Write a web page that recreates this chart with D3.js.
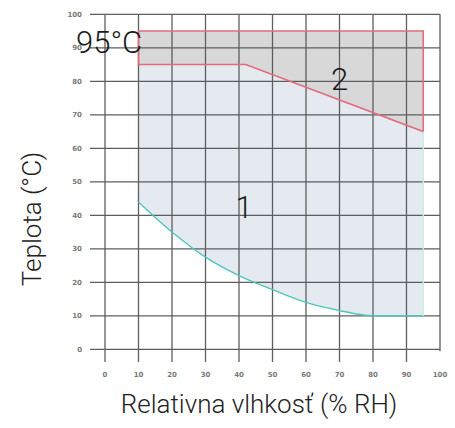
<!DOCTYPE html>
<html><head><meta charset="utf-8">
<script src="https://cdn.jsdelivr.net/npm/d3@7"></script>
<style>html,body{margin:0;padding:0;background:#fff;}svg{display:block;}</style>
</head><body>
<svg id="chart" width="455" height="428"></svg>
<script>
const xTicks = [0,10,20,30,40,50,60,70,80,90,100];
const yTicks = [0,10,20,30,40,50,60,70,80,90,100];
// Region 2 outline (RH %, °C)
const region2RH   = [10, 95, 95, 42, 10];
const region2Temp = [95, 95, 65, 85, 85];
// Lower boundary curve of region 1
const curveRH   = [10, 20, 30, 40, 50, 60, 70, 80, 95];
const curveTemp = [44, 35, 27.5, 22, 17.8, 14, 11.6, 10, 10];
const regionLabels = ["1", "2", "95°C"];
const labelRH   = [41.5, 70, 0];
const labelTemp = [39.3, 77.3, 88.5];

const svg = d3.select("#chart");
const x = d3.scaleLinear().domain([0,100]).range([105,440]);
const y = d3.scaleLinear().domain([0,100]).range([349.3,14.3]);

// Region 1 polygon: region2 lower edge + curve
const r1 = [[10,85],[42,85],[95,65]];
curveRH.slice().reverse().forEach((v,i)=>{ r1.push([v, curveTemp[curveTemp.length-1-i]]); });
svg.append("path")
  .attr("d", d3.line().x(d=>x(d[0])).y(d=>y(d[1]))(r1) + "Z")
  .attr("fill", "#e5eaf0");

const r2 = region2RH.map((v,i)=>[v, region2Temp[i]]);
svg.append("path")
  .attr("d", d3.line().x(d=>x(d[0])).y(d=>y(d[1]))(r2) + "Z")
  .attr("fill", "#d8d8d8");

// grid
const g = svg.append("g").attr("stroke", "#5e5e5e").attr("stroke-width", 1.3);
yTicks.forEach(t=>{
  g.append("line").attr("x1", 90).attr("x2", x(100)).attr("y1", y(t)).attr("y2", y(t));
});
xTicks.forEach(t=>{
  g.append("line").attr("x1", x(t)).attr("x2", x(t)).attr("y1", y(100)).attr("y2", t===100 ? y(0)+2 : 362);
});

// region 2 border
svg.append("path")
  .attr("d", d3.line().x(d=>x(d[0])).y(d=>y(d[1]))(r2) + "Z")
  .attr("fill", "none").attr("stroke", "#e36b7c").attr("stroke-width", 1.6);

// curve
svg.append("path")
  .attr("d", d3.line().x((d,i)=>x(curveRH[i])).y((d,i)=>y(curveTemp[i])).curve(d3.curveMonotoneX)(curveRH))
  .attr("fill", "none").attr("stroke", "#4fc6bc").attr("stroke-width", 1.4);
// right edge of region 1
svg.append("line").attr("x1", x(95)).attr("x2", x(95)).attr("y1", y(10)).attr("y2", y(65))
  .attr("stroke", "#c9eeec").attr("stroke-width", 1.4);

// tick labels
svg.append("g").selectAll("text").data(yTicks).join("text")
  .attr("x", 82).attr("y", d=>y(d)).attr("dy", "0.35em")
  .attr("text-anchor", "end")
  .attr("font-family", "DejaVu Sans, sans-serif").attr("font-size", 7).attr("font-weight", "bold")
  .attr("fill", "#7a7a7a").text(d=>d);
svg.append("g").selectAll("text").data(xTicks).join("text")
  .attr("x", d=>x(d)).attr("y", 377)
  .attr("text-anchor", "middle")
  .attr("font-family", "DejaVu Sans, sans-serif").attr("font-size", 7).attr("font-weight", "bold")
  .attr("fill", "#7a7a7a").text(d=>d);

// region labels
svg.append("g").selectAll("text").data(regionLabels).join("text")
  .attr("x", (d,i)=>i===2 ? 76 : x(labelRH[i]))
  .attr("y", (d,i)=>y(labelTemp[i]))
  .attr("text-anchor", (d,i)=>i===2 ? "start" : "middle")
  .attr("font-family", "Roboto, sans-serif").attr("font-weight", 300).attr("font-size", 31)
  .attr("fill", "#1a1a1a").text(d=>d);

// axis titles
svg.append("text").attr("x", 259).attr("y", 413).attr("text-anchor", "middle")
  .attr("font-family", "Roboto, sans-serif").attr("font-weight", 300).attr("font-size", 26)
  .attr("fill", "#222").text("Relativna vlhkosť (% RH)");
svg.append("text").attr("transform", "translate(41,219) rotate(-90)").attr("text-anchor", "middle")
  .attr("font-family", "Roboto, sans-serif").attr("font-weight", 300).attr("font-size", 26)
  .attr("fill", "#222").text("Teplota (°C)");
</script>
</body></html>
